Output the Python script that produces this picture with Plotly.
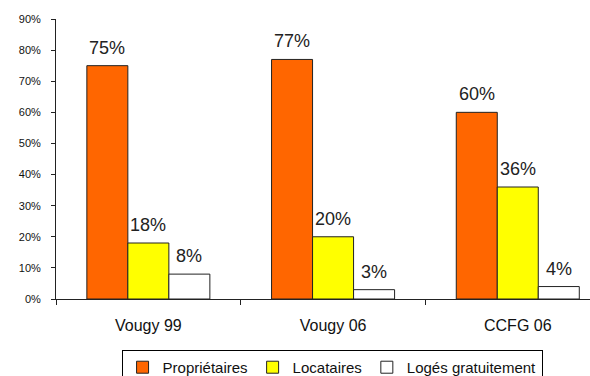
import plotly.graph_objects as go

categories = ["Vougy 99", "Vougy 06", "CCFG 06"]
series_names = ["Propriétaires", "Locataires", "Logés gratuitement"]
proprietaires = [75, 77, 60]
locataires = [18, 20, 36]
loges = [8, 3, 4]
series_values = [proprietaires, locataires, loges]
colors = ["#FF6600", "#FFFF00", "#FFFFFF"]
y_ticks = [0, 10, 20, 30, 40, 50, 60, 70, 80, 90]

FONT = "Liberation Sans, Arial, sans-serif"

fig = go.Figure()
for name, vals, col in zip(series_names, series_values, colors):
    fig.add_trace(go.Bar(
        x=categories, y=vals, name=name,
        marker=dict(color=col, line=dict(color="#222222", width=1)),
    ))

# data labels
bar_px = 41
for k, vals in enumerate(series_values):
    for c, v in zip(categories, vals):
        fig.add_annotation(
            x=c, y=v, text=f"{v}%", showarrow=False,
            xref="x", yref="y", xanchor="center", yanchor="bottom",
            xshift=(k - 1) * bar_px, yshift=6,
            font=dict(family=FONT, size=18, color="#222222"),
        )

fig.update_layout(
    width=590, height=376,
    margin=dict(l=56, r=0, t=19, b=77, autoexpand=False),
    paper_bgcolor="white", plot_bgcolor="white",
    barmode="group", bargap=0.334, bargroupgap=0,
    showlegend=True,
    legend=dict(
        orientation="h", x=0.517, xanchor="center", y=-0.182, yanchor="top",
        bordercolor="#000000", borderwidth=1,
        font=dict(family=FONT, size=15, color="#111111"),
        itemwidth=30, tracegroupgap=0,
    ),
    font=dict(family=FONT),
)
fig.update_xaxes(
    range=[-0.5, 2.391], showline=True, linecolor="#222222", linewidth=1,
    ticks="outside", tickson="boundaries", ticklen=5, tickcolor="#222222",
    tickfont=dict(family=FONT, size=16, color="#111111"),
    ticklabelstandoff=12, showgrid=False, zeroline=False,
)
fig.update_yaxes(
    range=[0, 90], tickvals=y_ticks, ticktext=[f"{t}%" for t in y_ticks],
    showline=True, linecolor="#222222", linewidth=1,
    ticks="outside", ticklen=4, tickcolor="#222222",
    tickfont=dict(family=FONT, size=11, color="#111111"),
    ticklabelstandoff=8, showgrid=False, zeroline=False,
)

fig.write_html("out.html")
